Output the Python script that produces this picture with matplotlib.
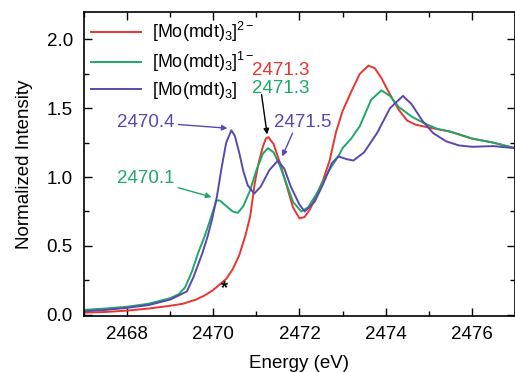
import matplotlib
matplotlib.use("Agg")
import matplotlib.pyplot as plt
from matplotlib.ticker import MultipleLocator

plt.rcParams['font.family'] = ['Liberation Sans', 'DejaVu Sans']
plt.rcParams['mathtext.fontset'] = 'custom'
plt.rcParams['mathtext.rm'] = 'Liberation Sans'
plt.rcParams['mathtext.it'] = 'Liberation Sans:italic'

# Energy (eV) and normalized intensity
red_x = [2467.0, 2467.5, 2468.0, 2468.5, 2469.0, 2469.3, 2469.6, 2469.8, 2470.0, 2470.15,
         2470.3, 2470.45, 2470.6, 2470.75, 2470.86, 2470.96, 2471.05, 2471.15, 2471.22, 2471.28,
         2471.4, 2471.55, 2471.7, 2471.85, 2472.0, 2472.12, 2472.25, 2472.4, 2472.55, 2472.7,
         2472.85, 2473.0, 2473.2, 2473.4, 2473.6, 2473.75, 2473.9, 2474.1, 2474.3, 2474.5,
         2474.7, 2475.0, 2475.5, 2476.0, 2476.5, 2477.0]
red_y = [0.015, 0.02, 0.03, 0.045, 0.065, 0.08, 0.11, 0.14, 0.18, 0.22,
         0.26, 0.33, 0.43, 0.58, 0.72, 0.95, 1.10, 1.22, 1.28, 1.29,
         1.24, 1.10, 0.94, 0.78, 0.70, 0.71, 0.77, 0.87, 0.98, 1.12,
         1.33, 1.48, 1.62, 1.75, 1.81, 1.79, 1.72, 1.60, 1.49, 1.41,
         1.38, 1.36, 1.33, 1.28, 1.25, 1.21]

green_x = [2467.0, 2467.5, 2468.0, 2468.5, 2469.0, 2469.2, 2469.35, 2469.5, 2469.65, 2469.8,
           2469.93, 2470.07, 2470.15, 2470.3, 2470.45, 2470.57, 2470.7, 2470.85, 2471.0, 2471.15,
           2471.27, 2471.4, 2471.55, 2471.7, 2471.85, 2472.04, 2472.2, 2472.4, 2472.6, 2472.75,
           2472.9, 2473.0, 2473.2, 2473.4, 2473.66, 2473.9, 2474.1, 2474.3, 2474.6, 2474.9,
           2475.2, 2475.5, 2476.0, 2476.5, 2477.0]
green_y = [0.035, 0.045, 0.058, 0.08, 0.12, 0.15, 0.20, 0.31, 0.45, 0.57,
           0.69, 0.83, 0.83, 0.79, 0.75, 0.74, 0.79, 0.90, 1.05, 1.17,
           1.21, 1.18, 1.08, 0.95, 0.82, 0.75, 0.78, 0.88, 1.00, 1.08,
           1.15, 1.21, 1.28, 1.37, 1.56, 1.63, 1.59, 1.51, 1.44, 1.39,
           1.35, 1.33, 1.28, 1.25, 1.21]

blue_x = [2467.0, 2467.5, 2468.0, 2468.5, 2469.0, 2469.2, 2469.39, 2469.55, 2469.75, 2469.87,
          2469.97, 2470.08, 2470.2, 2470.3, 2470.42, 2470.5, 2470.6, 2470.7, 2470.8, 2470.95,
          2471.1, 2471.3, 2471.5, 2471.65, 2471.8, 2472.0, 2472.12, 2472.35, 2472.55, 2472.75,
          2472.9, 2473.1, 2473.25, 2473.5, 2473.8, 2474.1, 2474.4, 2474.6, 2474.85, 2475.1,
          2475.4, 2475.7, 2476.0, 2476.5, 2477.0]
blue_y = [0.025, 0.035, 0.05, 0.07, 0.11, 0.14, 0.17, 0.28, 0.45, 0.57,
          0.69, 0.85, 1.08, 1.25, 1.34, 1.30, 1.18, 1.04, 0.94, 0.88,
          0.93, 1.05, 1.12, 1.06, 0.93, 0.80, 0.75, 0.82, 0.95, 1.10,
          1.15, 1.13, 1.12, 1.18, 1.32, 1.50, 1.59, 1.53, 1.41, 1.32,
          1.26, 1.23, 1.22, 1.225, 1.21]

series_labels = [r'[Mo(mdt)$_3$]$^{2-}$', r'[Mo(mdt)$_3$]$^{1-}$', r'[Mo(mdt)$_3$]']
x_ticks = [2468, 2470, 2472, 2474, 2476]
y_ticks = [0.0, 0.5, 1.0, 1.5, 2.0]

RED = '#e8352f'
GREEN = '#1ea866'
BLUE = '#5a48b0'
FS = 13.5

fig = plt.figure(figsize=(5.15, 3.72), dpi=100)
ax = fig.add_axes([0.163, 0.151, 0.837, 0.817])

ax.plot(red_x, red_y, color=RED, lw=1.4, label=series_labels[0])
ax.plot(green_x, green_y, color=GREEN, lw=1.4, label=series_labels[1])
ax.plot(blue_x, blue_y, color=BLUE, lw=1.4, label=series_labels[2])

ax.set_xlim(2467, 2477)
ax.set_ylim(-0.008, 2.2)
ax.set_xticks(x_ticks)
ax.set_yticks(y_ticks)
ax.set_yticklabels([f'{v:.1f}' for v in y_ticks])
ax.xaxis.set_minor_locator(MultipleLocator(1))
ax.yaxis.set_minor_locator(MultipleLocator(0.25))
ax.tick_params(which='both', direction='in', top=True, right=True, labelsize=FS, width=1)
ax.tick_params(which='major', length=6)
ax.tick_params(which='minor', length=3.5)
ax.tick_params(axis='y', pad=8)
ax.tick_params(axis='x', pad=7)
for s in ax.spines.values():
    s.set_linewidth(1.2)

ax.set_xlabel('Energy (eV)', fontsize=FS, labelpad=9)
ax.set_ylabel('Normalized Intensity', fontsize=FS, labelpad=10)

LFS = 13
leg = ax.legend(loc='upper left', frameon=False, fontsize=LFS, handlelength=2.75,
                handletextpad=0.62, labelspacing=0.33, borderaxespad=0.0,
                bbox_to_anchor=(0.0, 0.998))

fs = 13.5
ax.annotate('2470.4', xy=(2470.33, 1.355), xytext=(2467.76, 1.40), color=BLUE, fontsize=fs,
            va='center', ha='left',
            arrowprops=dict(arrowstyle='-|>', color=BLUE, lw=1, shrinkA=1, shrinkB=0, mutation_scale=8))
ax.annotate('2470.1', xy=(2469.96, 0.855), xytext=(2467.76, 0.99), color=GREEN, fontsize=fs,
            va='center', ha='left',
            arrowprops=dict(arrowstyle='-|>', color=GREEN, lw=1, shrinkA=1, shrinkB=0, mutation_scale=8))
ax.text(2470.9, 1.775, '2471.3', color=RED, fontsize=fs, va='center', ha='left')
ax.text(2470.9, 1.645, '2471.3', color=GREEN, fontsize=fs, va='center', ha='left')
ax.annotate('', xy=(2471.25, 1.31), xytext=(2471.12, 1.60),
            arrowprops=dict(arrowstyle='-|>', color='black', lw=1, shrinkA=0, shrinkB=0, mutation_scale=8))
ax.text(2471.4, 1.40, '2471.5', color=BLUE, fontsize=fs, va='center', ha='left')
ax.annotate('', xy=(2471.6, 1.15), xytext=(2471.84, 1.32),
            arrowprops=dict(arrowstyle='-|>', color=BLUE, lw=1, shrinkA=0, shrinkB=0, mutation_scale=8))
ax.text(2470.25, 0.19, '*', color='black', fontsize=13, ha='center', va='center', fontweight='bold')

fig.savefig('out.png', dpi=100)
